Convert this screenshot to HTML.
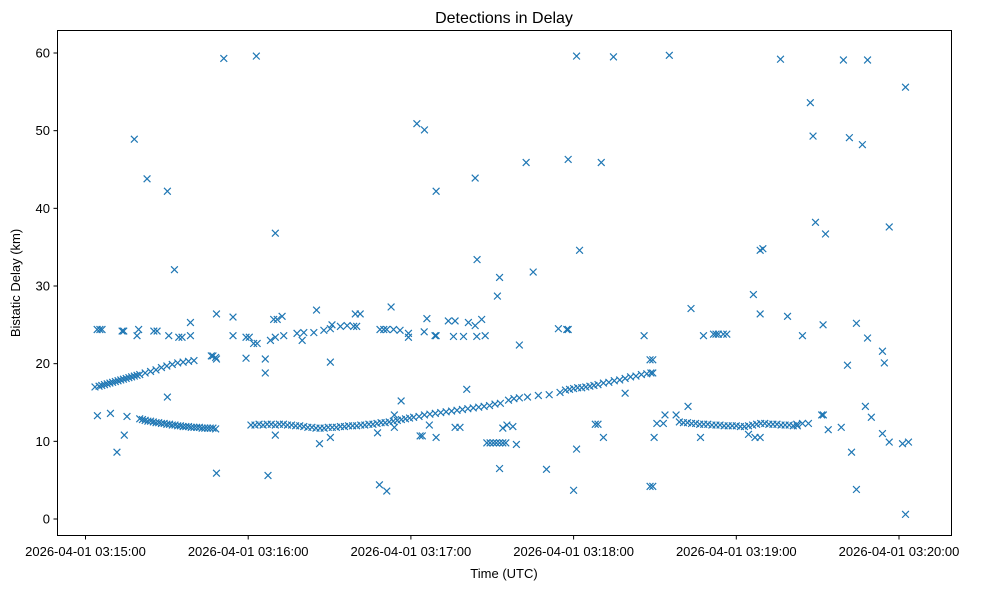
<!DOCTYPE html>
<html><head><meta charset="utf-8"><style>
body{margin:0;background:#fff;}
svg text{font-family:"Liberation Sans","DejaVu Sans",sans-serif;fill:#000;}
</style></head><body>
<svg id="chart" width="981" height="590" xmlns="http://www.w3.org/2000/svg">
<rect width="981" height="590" fill="#fff"/>
<text x="504" y="23" font-size="16" text-anchor="middle">Detections in Delay</text>
<g id="marks"></g>
<g id="axes"></g>
<rect x="57.5" y="30.5" width="894" height="505" fill="none" stroke="#000" stroke-width="1"/>
<text x="504" y="578" font-size="13" text-anchor="middle">Time (UTC)</text>
<text transform="translate(20,283) rotate(-90)" font-size="13" text-anchor="middle">Bistatic Delay (km)</text>
</svg>
<script>
// seconds since 2026-04-01 03:15:00 and delay in km
const trackATimes=[3.5,5,6,7,8,9,10,11,12,13,14,15,16,17,18,19,20,22,24,26,28,30,32,34,36,38,40,47,48];
const trackADelays=[17.0,17.1,17.2,17.3,17.4,17.5,17.6,17.7,17.8,17.9,18.0,18.1,18.2,18.3,18.4,18.5,18.6,18.8,19.0,19.2,19.5,19.7,19.9,20.1,20.2,20.3,20.4,21.0,20.8];
const trackB1Times=[20,21,22,23,24,25,26,27,28,29,30,31,32,33,34,35,36,37,38,39,40,41,42,43,44,45,46,47,48];
const trackB1Delays=[12.9,12.8,12.7,12.6,12.6,12.5,12.4,12.4,12.3,12.3,12.2,12.2,12.1,12.1,12.0,12.0,11.9,11.9,11.9,11.8,11.8,11.8,11.8,11.7,11.7,11.7,11.7,11.7,11.6];
const trackB2Times=[61,62.5,64,65.5,67,68.5,70,71.5,73,74.5,76,77.5,79,80.5,82,83.5,85,86.5,88,89.5,91,92.5,94,95.5,97,98.5,100,101.5,103,104.5,106,107.5,109,110.5,112,113.5,115,116.5,118,119.5,121,123,125,127,129,131,133,135,137,139,141,143,145,147,149,151,153,156,158,160,163,167,171,175,177,178.5,180,181.5,183,184.5,186,187.5,189,191,193,195,197,199,201,203,205,207,208.5];
const trackB2Delays=[12.1,12.1,12.2,12.1,12.2,12.2,12.1,12.2,12.2,12.1,12.1,12.0,12.0,11.9,11.8,11.8,11.7,11.7,11.7,11.8,11.8,11.8,11.9,11.9,12.0,12.0,12.0,12.1,12.1,12.2,12.2,12.3,12.4,12.4,12.5,12.6,12.7,12.8,12.9,13.0,13.1,13.2,13.4,13.5,13.6,13.7,13.8,13.9,14.0,14.1,14.2,14.3,14.4,14.5,14.6,14.8,14.9,15.3,15.5,15.6,15.7,15.9,16.0,16.3,16.6,16.7,16.8,16.9,16.9,17.0,17.1,17.2,17.3,17.5,17.6,17.8,17.9,18.1,18.3,18.4,18.6,18.7,18.8];
const trackDTimes=[219,220.5,222,223.5,225,226.5,228,229.5,231,232.5,234,235.5,237,238.5,240,241.5,243,244.5,246,247.5,249,250.5,252,253.5,255,256.5,258,259.5,261,262.5];
const trackDDelays=[12.5,12.4,12.4,12.3,12.3,12.2,12.2,12.2,12.1,12.1,12.1,12.0,12.0,12.0,12.0,11.9,11.9,12.0,12.1,12.2,12.3,12.3,12.2,12.2,12.2,12.1,12.1,12.1,12.0,12.0];
const outlierTimes=[4.4,9.2,15.3,14.3,11.6,46.4,48.3,59.2,66.3,66.3,90.3,30.2,48.3,67.3,86.3,90.3,70.0,51,63.0,18.0,22.7,30.2,32.8,70.0,
4.3,5.3,6.1,13.5,14.1,19.0,19.6,25.2,26.4,30.7,34.4,35.6,38.7,38.7,48.3,54.4,54.4,59.2,60.4,62.0,63.3,68.2,69.4,70.7,72.5,70.0,73.1,78.0,79.9,80.5,84.2,85.2,87.9,90.3,90.9,94.0,96.5,98.9,99.5,
100.0,101.3,112.7,108.6,110,111.1,113.6,116.0,119.1,119.1,124.9,125.9,128.9,129.3,133.8,136.3,135.7,139.4,141.2,143.7,146.1,144.3,147.4,174.4,178.0,177.5,206.0,208.2,
122.2,125.0,129.3,143.7,162.5,178.0,190.2,181.1,194.7,144.4,152.7,151.9,165.1,182.2,160.0,140.6,116.4,113.9,107.7,113.9,123.4,124.2,126.8,129.3,136.3,138.1,
148,149.2,150.4,151.5,152.7,153.9,155,153.9,155.4,157.6,158.9,152.7,170.0,180.0,181.1,188.0,189,191.0,199.0,108.4,111.1,208.2,
215.3,256.3,279.5,288.4,302.4,267.3,268.3,281.7,286.5,269.2,272.9,296.4,249.8,248.8,246.3,248.8,258.9,223.3,227.9,231.6,233.4,235.2,236.5,232.5,264.4,272.0,284.3,288.4,293.9,294.6,281.0,209.2,209.2,209.7,209.2,226.8,244.5,246.9,248.8,222.2,213.7,210.7,213.1,217.8,273.9,278.7,271.5,272.1,287.6,289.8,293.9,296.4,301.3,303.5,282.5,284.3,302.4,262.3,264.4,266.6];
const outlierDelays=[13.3,13.6,13.2,10.8,8.6,21.0,20.6,20.7,20.6,18.8,20.2,15.7,5.9,5.6,9.7,10.5,10.8,59.3,59.6,48.9,43.8,42.2,32.1,36.8,
24.4,24.4,24.4,24.2,24.2,23.6,24.4,24.2,24.2,23.6,23.4,23.4,23.6,25.3,26.4,26.0,23.6,23.4,23.4,22.6,22.6,23.0,25.7,25.7,26.1,23.4,23.6,23.9,23.0,24.0,24.0,26.9,24.3,24.5,25.0,24.8,24.9,24.8,26.4,
24.8,26.4,27.3,24.4,24.4,24.4,24.4,24.3,23.9,23.4,24.1,25.8,23.6,23.6,25.5,25.5,23.5,23.5,25.3,24.9,25.7,23.5,23.6,24.5,24.4,24.4,23.6,20.5,
50.9,50.1,42.2,43.9,45.9,46.3,45.9,59.6,59.5,33.4,31.1,28.7,31.8,34.6,22.4,16.7,15.2,13.4,11.1,11.8,10.7,10.7,12.1,10.5,11.8,11.8,
9.8,9.8,9.8,9.8,9.8,9.8,9.8,11.7,12.1,11.9,9.6,6.5,6.4,3.7,9.0,12.2,12.2,10.5,16.2,4.4,3.6,4.2,
59.7,59.2,59.1,59.1,55.6,53.6,49.3,49.1,48.2,38.2,36.7,37.6,34.8,34.6,28.9,26.4,26.1,27.1,23.6,23.8,23.8,23.8,23.8,23.8,23.6,25.0,25.2,23.3,21.6,20.1,19.8,20.5,18.8,10.5,4.2,10.5,10.9,10.5,10.5,14.5,13.4,12.3,12.3,13.4,11.5,11.8,13.4,13.4,14.5,13.1,11.0,9.9,9.7,9.9,8.6,3.8,0.6,12.2,12.3,12.3];
const yTicks=[0,10,20,30,40,50,60];
const xTickSeconds=[0,60,120,180,240,300];
const xTickLabels=["2026-04-01 03:15:00","2026-04-01 03:16:00","2026-04-01 03:17:00","2026-04-01 03:18:00","2026-04-01 03:19:00","2026-04-01 03:20:00"];

const NS="http://www.w3.org/2000/svg";
function xScale(t){return 85.5+t*(162.7/60);}
function yScale(d){return 519-d*(466/60);}
const marks=document.getElementById('marks');
const axes=document.getElementById('axes');
const allT=[].concat(trackATimes,trackB1Times,trackB2Times,trackDTimes,outlierTimes);
const allD=[].concat(trackADelays,trackB1Delays,trackB2Delays,trackDDelays,outlierDelays);
for(let i=0;i<allT.length;i++){
  const x=xScale(allT[i]),y=yScale(allD[i]),s=3.4;
  const p=document.createElementNS(NS,'path');
  p.setAttribute('d',`M${x-s},${y-s}L${x+s},${y+s}M${x-s},${y+s}L${x+s},${y-s}`);
  p.setAttribute('stroke','#1f77b4');p.setAttribute('stroke-width','1.2');p.setAttribute('fill','none');
  
  
  marks.appendChild(p);
}
yTicks.forEach(v=>{
  const y=yScale(v);
  const l=document.createElementNS(NS,'line');
  l.setAttribute('x1',53.5);l.setAttribute('x2',57.5);l.setAttribute('y1',y);l.setAttribute('y2',y);l.setAttribute('stroke','#000');
  
  
  axes.appendChild(l);
  const t=document.createElementNS(NS,'text');
  t.setAttribute('x',50);t.setAttribute('y',y+4.5);t.setAttribute('font-size','13');t.setAttribute('text-anchor','end');
  t.textContent=v;
  
  
  axes.appendChild(t);
});
xTickSeconds.forEach((s,i)=>{
  const x=xScale(s);
  const l=document.createElementNS(NS,'line');
  l.setAttribute('x1',x);l.setAttribute('x2',x);l.setAttribute('y1',535.5);l.setAttribute('y2',539.5);l.setAttribute('stroke','#000');
  
  
  axes.appendChild(l);
  const t=document.createElementNS(NS,'text');
  t.setAttribute('x',x);t.setAttribute('y',556);t.setAttribute('font-size','13');t.setAttribute('text-anchor','middle');
  t.textContent=xTickLabels[i];
  
  
  axes.appendChild(t);
});
</script>
</body></html>
